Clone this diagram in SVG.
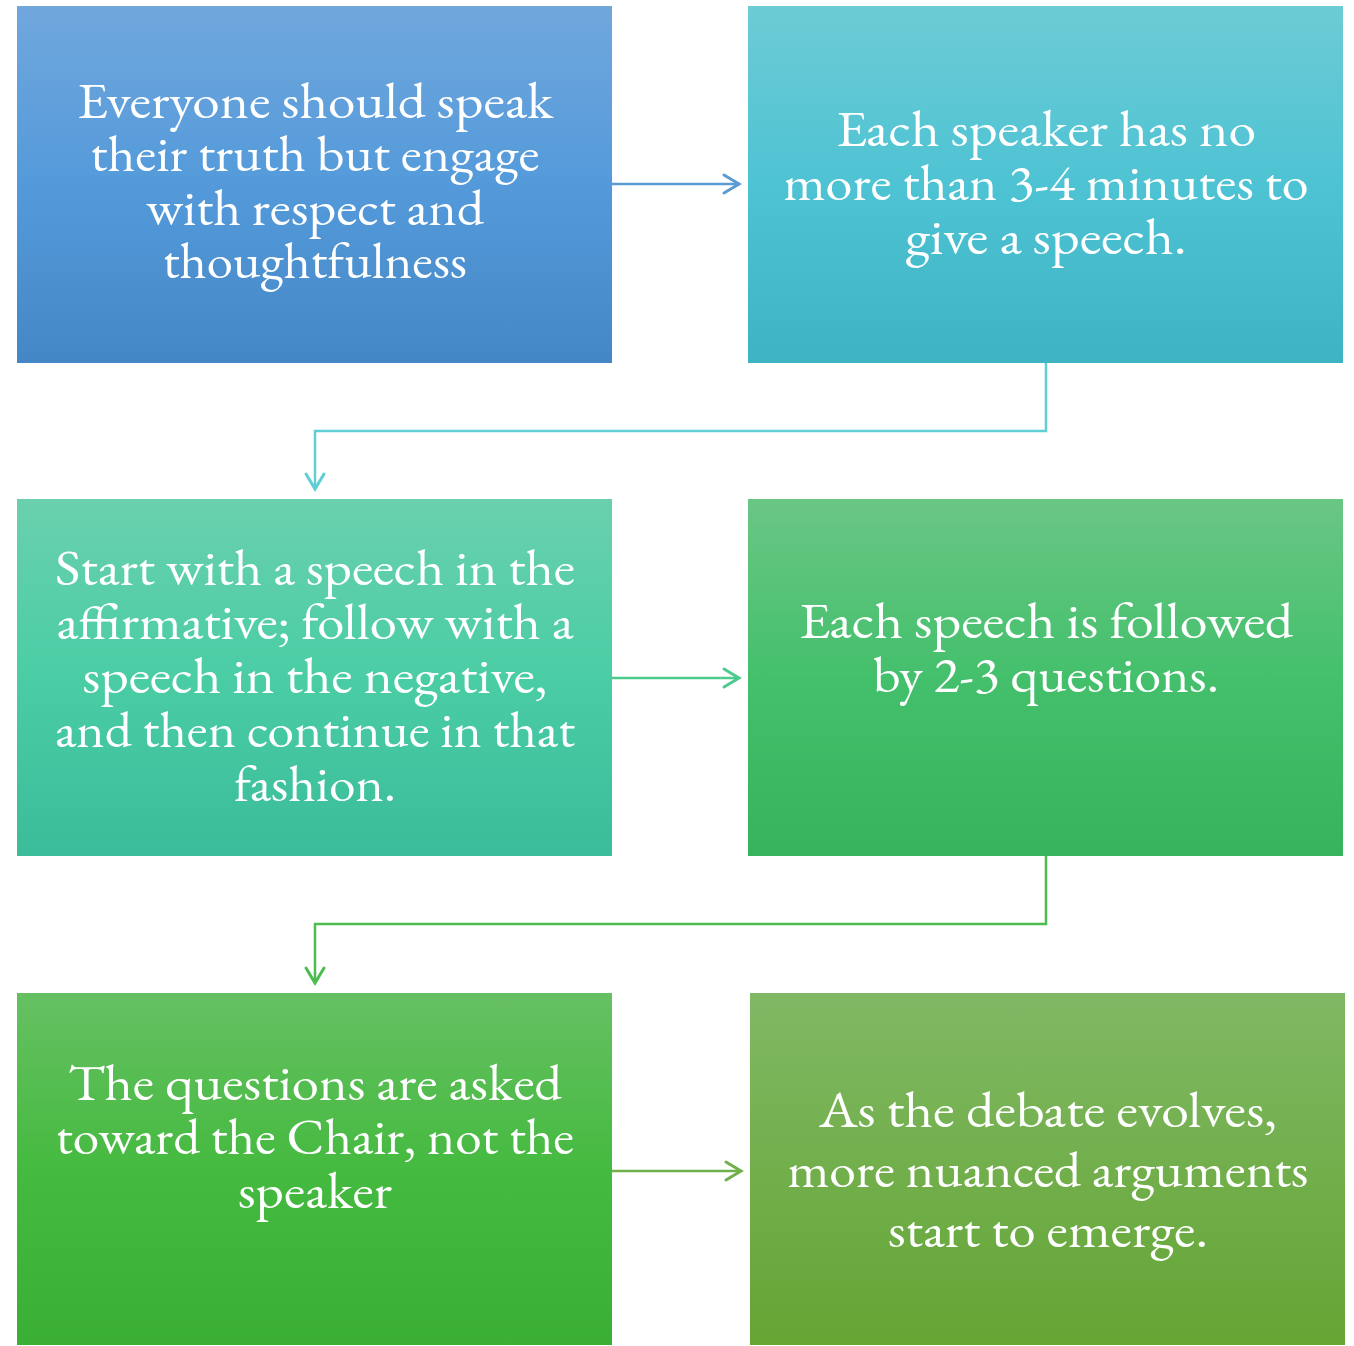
<svg xmlns="http://www.w3.org/2000/svg" width="1354" height="1346" viewBox="0 0 1354 1346">
<defs>
<linearGradient id="g1" x1="0" y1="0" x2="0" y2="1"><stop offset="0" stop-color="#70a7dd"/><stop offset="0.5" stop-color="#549ada"/><stop offset="1" stop-color="#4587c6"/></linearGradient>
<linearGradient id="g2" x1="0" y1="0" x2="0" y2="1"><stop offset="0" stop-color="#6dcbd5"/><stop offset="0.5" stop-color="#4ec3d3"/><stop offset="1" stop-color="#3db3c3"/></linearGradient>
<linearGradient id="g3" x1="0" y1="0" x2="0" y2="1"><stop offset="0" stop-color="#6ad0ae"/><stop offset="0.5" stop-color="#4acda5"/><stop offset="1" stop-color="#3bbc9a"/></linearGradient>
<linearGradient id="g4" x1="0" y1="0" x2="0" y2="1"><stop offset="0" stop-color="#6ac685"/><stop offset="0.5" stop-color="#44c06c"/><stop offset="1" stop-color="#37b35d"/></linearGradient>
<linearGradient id="g5" x1="0" y1="0" x2="0" y2="1"><stop offset="0" stop-color="#66c062"/><stop offset="0.5" stop-color="#45ba40"/><stop offset="1" stop-color="#3aaf34"/></linearGradient>
<linearGradient id="g6" x1="0" y1="0" x2="0" y2="1"><stop offset="0" stop-color="#80b864"/><stop offset="0.5" stop-color="#72af4c"/><stop offset="1" stop-color="#64a534"/></linearGradient>
</defs>
<style>
.t{font-family:"EB Garamond","Liberation Serif","DejaVu Serif",serif;font-size:50px;fill:#ffffff;text-anchor:middle}
.c{fill:none;stroke-width:2.5}
.h{fill:none;stroke-width:3;stroke-linecap:round;stroke-linejoin:miter}
</style>
<g id="connectors">
<path class="c" stroke="#5b9bd5" d="M612,184 H738"/>
<path class="h" stroke="#5b9bd5" d="M724,175 L739,184 L724,193"/>
<path class="c" stroke="#5fcfd3" d="M1046,363 V431 H315 V488"/>
<path class="h" stroke="#5fcfd3" d="M306,474 L315,489 L324,474"/>
<path class="c" stroke="#4ccb8c" d="M612,678 H738"/>
<path class="h" stroke="#4ccb8c" d="M724,669 L739,678 L724,687"/>
<path class="c" stroke="#4cbb50" d="M1046,856 V924 H315 V982"/>
<path class="h" stroke="#4cbb50" d="M306,968 L315,983 L324,968"/>
<path class="c" stroke="#70b04a" d="M612,1171 H740"/>
<path class="h" stroke="#70b04a" d="M726,1162 L741,1171 L726,1180"/>
</g>
<g id="n1"><rect x="17" y="6" width="595" height="357" fill="url(#g1)"/>
<text class="t" lengthAdjust="spacingAndGlyphs"><tspan x="315" y="118" textLength="476" lengthAdjust="spacingAndGlyphs">Everyone should speak</tspan></text>
<text class="t"><tspan x="315" y="171" textLength="449" lengthAdjust="spacingAndGlyphs">their truth but engage</tspan></text>
<text class="t"><tspan x="315" y="225" textLength="338" lengthAdjust="spacingAndGlyphs">with respect and</tspan></text>
<text class="t"><tspan x="315" y="278" textLength="304" lengthAdjust="spacingAndGlyphs">thoughtfulness</tspan></text></g>
<g id="n2"><rect x="748" y="6" width="595" height="357" fill="url(#g2)"/>
<text class="t"><tspan x="1046" y="146" textLength="420" lengthAdjust="spacingAndGlyphs">Each speaker has no</tspan></text>
<text class="t"><tspan x="1046" y="200" textLength="525" lengthAdjust="spacingAndGlyphs">more than 3-4 minutes to</tspan></text>
<text class="t"><tspan x="1046" y="254" textLength="281" lengthAdjust="spacingAndGlyphs">give a speech.</tspan></text></g>
<g id="n3"><rect x="17" y="499" width="595" height="357" fill="url(#g3)"/>
<text class="t"><tspan x="315" y="585" textLength="520" lengthAdjust="spacingAndGlyphs">Start with a speech in the</tspan></text>
<text class="t"><tspan x="315" y="639" textLength="517" lengthAdjust="spacingAndGlyphs">affirmative; follow with a</tspan></text>
<text class="t"><tspan x="315" y="693" textLength="465" lengthAdjust="spacingAndGlyphs">speech in the negative,</tspan></text>
<text class="t"><tspan x="315" y="747" textLength="520" lengthAdjust="spacingAndGlyphs">and then continue in that</tspan></text>
<text class="t"><tspan x="315" y="801" textLength="162" lengthAdjust="spacingAndGlyphs">fashion.</tspan></text></g>
<g id="n4"><rect x="748" y="499" width="595" height="357" fill="url(#g4)"/>
<text class="t"><tspan x="1046" y="638" textLength="494" lengthAdjust="spacingAndGlyphs">Each speech is followed</tspan></text>
<text class="t"><tspan x="1046" y="692" textLength="346" lengthAdjust="spacingAndGlyphs">by 2-3 questions.</tspan></text></g>
<g id="n5"><rect x="17" y="993" width="595" height="352" fill="url(#g5)"/>
<text class="t"><tspan x="315" y="1100" textLength="494" lengthAdjust="spacingAndGlyphs">The questions are asked</tspan></text>
<text class="t"><tspan x="315" y="1154" textLength="518" lengthAdjust="spacingAndGlyphs">toward the Chair, not the</tspan></text>
<text class="t"><tspan x="315" y="1208" textLength="154" lengthAdjust="spacingAndGlyphs">speaker</tspan></text></g>
<g id="n6"><rect x="750" y="993" width="595" height="352" fill="url(#g6)"/>
<text class="t"><tspan x="1048" y="1127" textLength="458" lengthAdjust="spacingAndGlyphs">As the debate evolves,</tspan></text>
<text class="t"><tspan x="1048" y="1187" textLength="521" lengthAdjust="spacingAndGlyphs">more nuanced arguments</tspan></text>
<text class="t"><tspan x="1048" y="1247" textLength="320" lengthAdjust="spacingAndGlyphs">start to emerge.</tspan></text></g>
</svg>
